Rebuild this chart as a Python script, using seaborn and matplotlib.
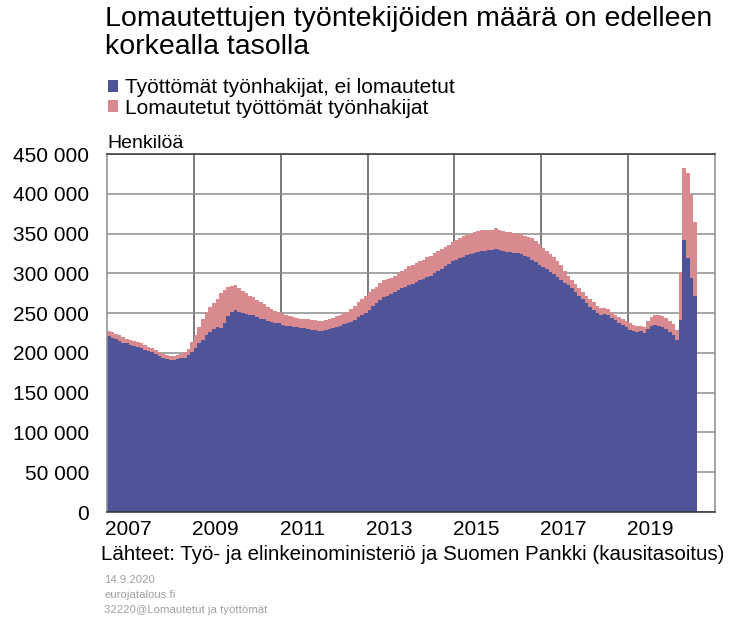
import matplotlib
matplotlib.use("Agg")
import matplotlib.pyplot as plt
import matplotlib.ticker as mticker
from matplotlib.patches import Patch
import pandas as pd
import seaborn as sns

# ── Data (thousands of persons, monthly, seasonally adjusted, 2007-01 … 2020-07) ──
START_YEAR = 2007
END_YEAR = 2020

# Unemployed job seekers, not laid off
blue = [
    221, 219, 217, 215, 213, 212, 210, 209, 208, 206, 204, 202,   # 2007
    201, 199, 196, 194, 192, 191, 191, 192, 193, 194, 197, 201,   # 2008
    206, 212, 216, 222, 226, 230, 233, 231, 238, 246, 252, 254,   # 2009
    252, 250, 249, 248, 247, 245, 243, 242, 240, 239, 238, 237,   # 2010
    235, 234, 234, 233, 232, 231, 231, 230, 229, 229, 228, 228,   # 2011
    229, 230, 231, 232, 234, 236, 237, 239, 241, 245, 248, 250,   # 2012
    254, 259, 263, 267, 270, 272, 274, 276, 279, 281, 283, 285,   # 2013
    287, 289, 291, 293, 295, 297, 300, 303, 306, 309, 312, 315,   # 2014
    317, 319, 321, 323, 324, 326, 327, 328, 328, 329, 329, 331,   # 2015
    329, 328, 327, 327, 326, 325, 324, 322, 320, 317, 314, 311,   # 2016
    308, 305, 302, 299, 295, 292, 288, 285, 281, 277, 272, 268,   # 2017
    263, 258, 254, 250, 247, 249, 248, 244, 241, 238, 235, 233,   # 2018
    229, 227, 226, 227, 225, 230, 234, 235, 234, 233, 230, 226,   # 2019
    222, 216, 241, 342, 319, 294, 271,                            # 2020
]

# Laid-off unemployed job seekers
laid_off = [
    7, 7, 7, 7, 7, 6, 6, 6, 6, 6, 6, 5,                # 2007
    5, 5, 5, 5, 5, 5, 5, 5, 5, 7, 8, 13,               # 2008
    16, 20, 26, 30, 32, 33, 35, 44, 41, 37, 32, 31,    # 2009
    29, 28, 26, 24, 23, 22, 21, 19, 18, 16, 15, 14,    # 2010
    14, 14, 12, 12, 12, 12, 12, 12, 12, 12, 12, 12,    # 2011
    12, 12, 13, 14, 14, 14, 15, 16, 18, 19, 20, 22,    # 2012
    23, 21, 20, 21, 21, 21, 20, 21, 21, 22, 23, 24,    # 2013
    24, 24, 24, 24, 25, 25, 25, 25, 24, 24, 24, 24,    # 2014
    25, 26, 26, 25, 25, 26, 26, 26, 27, 26, 26, 26,    # 2015
    25, 25, 25, 25, 25, 25, 25, 25, 26, 27, 27, 26,    # 2016
    24, 23, 22, 21, 20, 18, 15, 12, 11, 10, 9, 9,      # 2017
    9, 10, 10, 9, 9, 8, 7, 7, 7, 7, 7, 7,              # 2018
    8, 8, 8, 7, 8, 10, 11, 12, 13, 13, 14, 14,         # 2019
    14, 13, 61, 91, 107, 104, 94,                      # 2020
]

LBL_BLUE = "Työttömät työnhakijat, ei lomautetut"
LBL_PINK = "Lomautetut työttömät työnhakijat"
C_BLUE = "#4f5499"
C_PINK = "#d98a8e"

footer = ["14.9.2020", "eurojatalous.fi", "32220@Lomautetut ja työttömät"]

n = len(blue)
df = pd.DataFrame({
    "month": list(range(n)) * 2,
    "value": [v * 1000 for v in blue] + [v * 1000 for v in laid_off],
    "series": [LBL_BLUE] * n + [LBL_PINK] * n,
})

sns.set_style("white")
plt.rcParams["font.family"] = ["Liberation Sans", "DejaVu Sans"]
plt.rcParams["text.color"] = "black"

fig = plt.figure(figsize=(7.35, 6.19), dpi=100)
ax = fig.add_axes([107 / 735, 1 - 512 / 619, 608 / 735, 358 / 619])

# first hue level ends up on top of the stack
sns.histplot(data=df, x="month", weights="value", hue="series",
             hue_order=[LBL_PINK, LBL_BLUE], multiple="stack", discrete=True,
             shrink=1, palette={LBL_BLUE: C_BLUE, LBL_PINK: C_PINK},
             alpha=1, linewidth=0, legend=False, ax=ax, zorder=2)

n_years = END_YEAR - START_YEAR + 1
ax.set_xlim(-0.5, n_years * 12 - 0.5)
ax.set_ylim(0, 450000)
ax.set_xlabel("")
ax.set_ylabel("")

# y axis
ax.yaxis.set_major_locator(mticker.MultipleLocator(50000))
ax.yaxis.set_major_formatter(mticker.FuncFormatter(lambda v, p: f"{int(v):,}".replace(",", " ")))
ax.tick_params(axis="y", length=0, pad=13, labelsize=15, labelcolor="black")
ax.grid(axis="y", color="#8c8c8c", linewidth=1.1, zorder=0)

# x axis: tick marks at year boundaries, labels at odd years mid-year
ax.set_xticks([12 * k - 0.5 for k in range(n_years + 1)])
ax.set_xticklabels([])
ax.tick_params(axis="x", which="major", direction="in", length=4, width=1, color="#333333")
ax.set_xticks([12 * k + 5.5 for k in range(0, n_years, 2)], minor=True)
ax.set_xticklabels([str(START_YEAR + k) for k in range(0, n_years, 2)], minor=True)
ax.tick_params(axis="x", which="minor", length=0, pad=6, labelsize=15, labelcolor="black")
for k in range(2, n_years, 2):
    ax.axvline(12 * k - 0.5, color="#555555", linewidth=1.1, zorder=0)

for side in ["left", "right"]:
    ax.spines[side].set_color("#8c8c8c")
for side in ["top", "bottom"]:
    ax.spines[side].set_color("#333333")
for sp in ax.spines.values():
    sp.set_linewidth(1.1)

# texts
fig.text(105 / 735, 1 - 6 / 619, "Lomautettujen työntekijöiden määrä on edelleen\nkorkealla tasolla",
         ha="left", va="top", fontsize=20.5, linespacing=1.08)
fig.text(107 / 735, 1 - 144 / 619, "Henkilöä", ha="left", va="center", fontsize=14)

handles = [Patch(facecolor=C_BLUE, edgecolor="none", label=LBL_BLUE),
           Patch(facecolor=C_PINK, edgecolor="none", label=LBL_PINK)]
fig.legend(handles=handles, loc="upper left", bbox_to_anchor=(108 / 735, 1 - 78 / 619),
           frameon=False, fontsize=15, handlelength=0.5, handleheight=0.5,
           handletextpad=0.3, labelspacing=0.08, borderaxespad=0, borderpad=0)

fig.text(101 / 735, 1 - 555 / 619,
         "Lähteet: Työ- ja elinkeinoministeriö ja Suomen Pankki (kausitasoitus)",
         ha="left", va="center", fontsize=14.8)
for i, line in enumerate(footer):
    fig.text(104 / 735, 1 - (580 + 15 * i) / 619, line,
             ha="left", va="center", fontsize=8.2, color="#a0a0a0")

fig.savefig("out.png", dpi=100)
